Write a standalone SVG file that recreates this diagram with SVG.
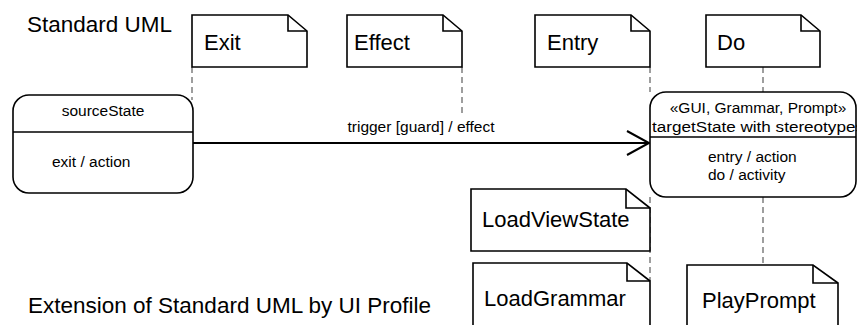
<svg xmlns="http://www.w3.org/2000/svg" width="857" height="325" viewBox="0 0 857 325">
  <style>
    text { font-family: "Liberation Sans", Arial, sans-serif; fill: #000; }
    .title { font-size: 22.5px; }
    .note-label { font-size: 22px; }
    .small { font-size: 15.5px; }
    .note { fill: #fff; stroke: #000; stroke-width: 1.6; stroke-linejoin: miter; }
    .fold { fill: none; stroke: #000; stroke-width: 1.6; }
    .state { fill: #fff; stroke: #000; stroke-width: 1.6; }
    .anchor { fill: none; stroke: #7f7f7f; stroke-width: 1.5; stroke-dasharray: 6 4; }
    .transition { fill: none; stroke: #000; stroke-width: 2; }
  </style>

  <text class="title" x="27" y="32">Standard UML</text>
  <text class="title" x="28" y="313">Extension of Standard UML by UI Profile</text>

  <!-- dashed anchors between notes and states -->
  <g id="connectors">
    <line class="anchor" x1="192" y1="67" x2="192" y2="100"/>
    <line class="anchor" x1="462" y1="67" x2="462" y2="115"/>
    <line class="anchor" x1="650" y1="67" x2="650" y2="92"/>
    <line class="anchor" x1="650" y1="197" x2="650" y2="281"/>
    <line class="anchor" x1="763" y1="67" x2="763" y2="92"/>
    <line class="anchor" x1="763" y1="197" x2="763" y2="265"/>
    <g id="transition">
      <line class="transition" x1="193" y1="143" x2="649" y2="143"/>
      <polyline class="transition" points="627,131 649,143 627,155"/>
      <text class="small" x="421" y="132" text-anchor="middle" font-size="16">trigger [guard] / effect</text>
    </g>
  </g>

  <g id="sourceState">
    <rect class="state" x="13" y="95" width="180" height="98" rx="16"/>
    <line class="fold" x1="13" y1="132" x2="193" y2="132"/>
    <text class="small" x="103" y="116" text-anchor="middle">sourceState</text>
    <text class="small" x="52" y="167" font-size="16">exit / action</text>
  </g>

  <g id="targetState">
    <rect class="state" x="650" y="92" width="206" height="105" rx="16"/>
    <line class="fold" x1="650" y1="137" x2="856" y2="137"/>
    <text class="small" x="758" y="113" text-anchor="middle">«GUI, Grammar, Prompt»</text>
    <text class="small" x="652" y="132" textLength="212" lengthAdjust="spacingAndGlyphs">targetState with stereotypes</text>
    <text class="small" x="708" y="162" font-size="16">entry / action</text>
    <text class="small" x="708" y="180" font-size="16">do / activity</text>
  </g>

  <g id="noteExit">
    <path class="note" d="M192,15 H288 L307,31 V67 H192 Z"/>
    <path class="fold" d="M288,15 V31 H307"/>
    <text class="note-label" x="204" y="50">Exit</text>
  </g>

  <g id="noteEffect">
    <path class="note" d="M347,15 H443 L462,31 V67 H347 Z"/>
    <path class="fold" d="M443,15 V31 H462"/>
    <text class="note-label" x="354" y="50">Effect</text>
  </g>

  <g id="noteEntry">
    <path class="note" d="M535,15 H631 L650,31 V67 H535 Z"/>
    <path class="fold" d="M631,15 V31 H650"/>
    <text class="note-label" x="547" y="50">Entry</text>
  </g>

  <g id="noteDo">
    <path class="note" d="M706,15 H801 L820,31 V67 H706 Z"/>
    <path class="fold" d="M801,15 V31 H820"/>
    <text class="note-label" x="717" y="50">Do</text>
  </g>

  <g id="noteLoadViewState">
    <path class="note" d="M471,189 H626 L650,208 V251 H471 Z"/>
    <path class="fold" d="M626,189 V208 H650"/>
    <text class="note-label" x="482" y="227">LoadViewState</text>
  </g>

  <g id="noteLoadGrammar">
    <path class="note" d="M473,263 H627 L650,281 V330 H473 Z"/>
    <path class="fold" d="M627,263 V281 H650"/>
    <text class="note-label" x="484" y="306">LoadGrammar</text>
  </g>

  <g id="notePlayPrompt">
    <path class="note" d="M687,265 H813 L838,283 V330 H687 Z"/>
    <path class="fold" d="M813,265 V283 H838"/>
    <text class="note-label" x="702" y="308">PlayPrompt</text>
  </g>
</svg>
